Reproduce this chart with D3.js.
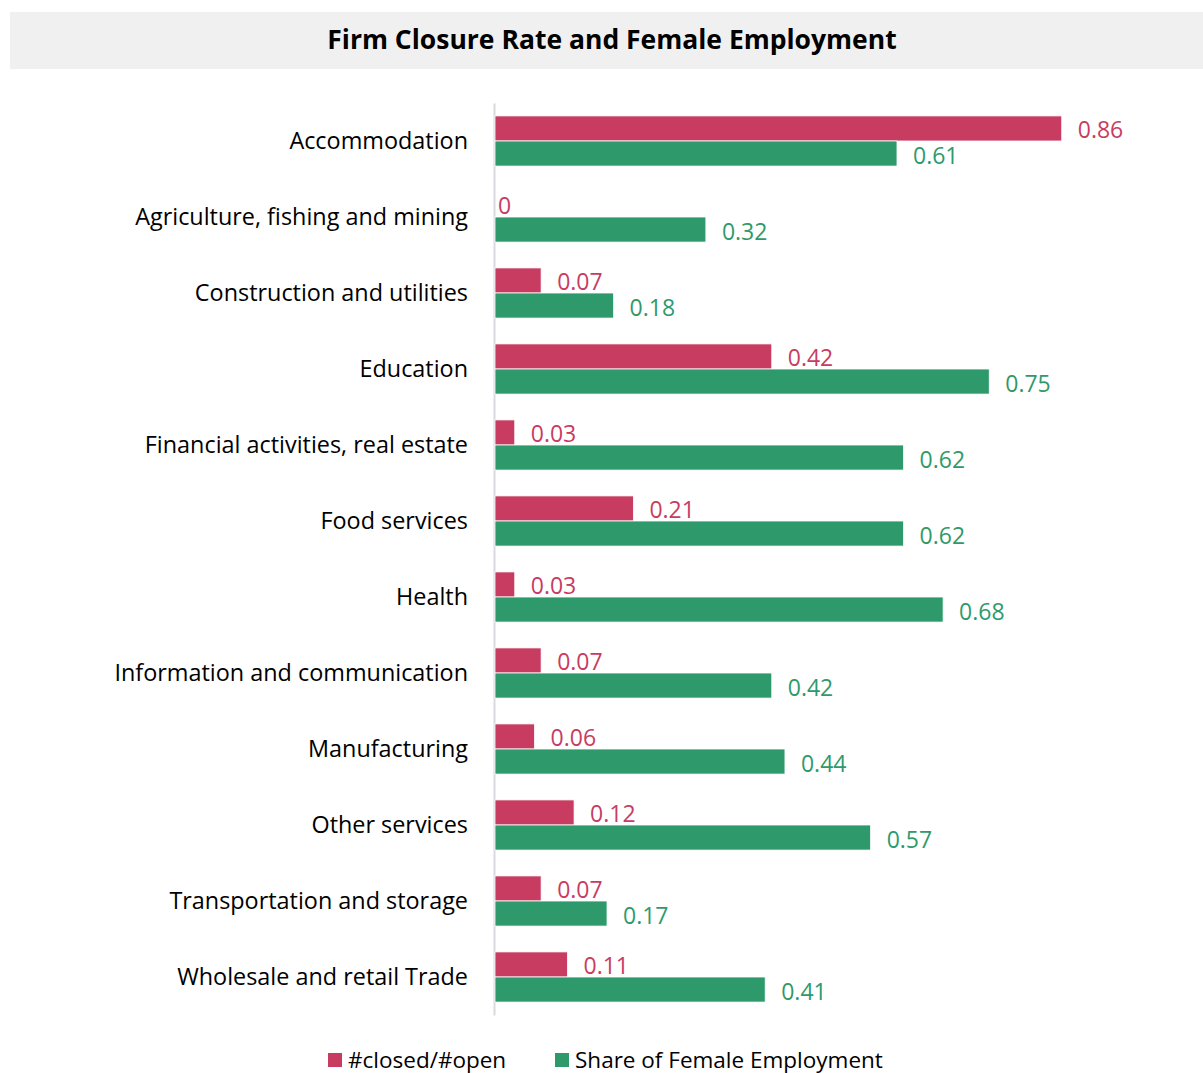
<!DOCTYPE html>
<html>
<head>
<meta charset="utf-8">
<script src="https://cdn.jsdelivr.net/npm/d3@7/dist/d3.min.js"></script>
<style>
  html, body { margin: 0; padding: 0; background: #ffffff; }
  svg { display: block; font-family: "Open Sans", "Noto Sans", sans-serif; }
</style>
</head>
<body>
<script>
// Industry categories, top to bottom
const categories = [
  "Accommodation",
  "Agriculture, fishing and mining",
  "Construction and utilities",
  "Education",
  "Financial activities, real estate",
  "Food services",
  "Health",
  "Information and communication",
  "Manufacturing",
  "Other services",
  "Transportation and storage",
  "Wholesale and retail Trade"
];

// Series names (legend labels)
const seriesNames = ["#closed/#open", "Share of Female Employment"];

// Ratio of closed to open firms per industry
const closedOpen = [0.86, 0, 0.07, 0.42, 0.03, 0.21, 0.03, 0.07, 0.06, 0.12, 0.07, 0.11];

// Share of female employment per industry
const femaleShare = [0.61, 0.32, 0.18, 0.75, 0.62, 0.62, 0.68, 0.42, 0.44, 0.57, 0.17, 0.41];

const colors = ["#C83C62", "#2E9A6C"];

const W = 1203, H = 1073;
const svg = d3.select("body").append("svg").attr("width", W).attr("height", H);

// Title banner
svg.append("rect")
  .attr("x", 10).attr("y", 12).attr("width", W - 10).attr("height", 57)
  .attr("fill", "#f0f0f0");
svg.append("text")
  .attr("x", 612).attr("y", 39)
  .attr("text-anchor", "middle").attr("dominant-baseline", "central")
  .attr("font-weight", "bold").attr("font-size", 26.5).attr("fill", "#000")
  .text("Firm Closure Rate and Female Employment");

// Scales
const x = d3.scaleLinear().domain([0, 1]).range([495, 1154]);
const y0 = d3.scaleBand().domain(categories).range([103, 1015])
  .paddingInner(0.34).paddingOuter(0.17);
const y1 = d3.scaleBand().domain(d3.range(seriesNames.length)).range([0, y0.bandwidth()]);

const rows = categories.map((c, i) => ({ cat: c, vals: [closedOpen[i], femaleShare[i]] }));

// Category axis
const axis = svg.append("g")
  .attr("transform", `translate(494,0)`)
  .call(d3.axisLeft(y0).tickSize(0).tickPadding(26).tickSizeOuter(0));
axis.select(".domain").attr("stroke", "#d9d9df").attr("stroke-width", 2);
axis.selectAll(".tick text")
  .attr("font-size", 23.4).attr("fill", "#000")
  .attr("font-family", "'Open Sans', sans-serif");

// Bars and value labels
const groups = svg.append("g").selectAll("g")
  .data(rows).join("g")
  .attr("transform", d => `translate(0,${y0(d.cat)})`);

groups.selectAll("rect")
  .data(d => d.vals.map((v, k) => ({ v, k })))
  .join("rect")
  .attr("x", x(0))
  .attr("y", d => y1(d.k))
  .attr("width", d => x(d.v) - x(0))
  .attr("height", y1.bandwidth())
  .attr("fill", d => colors[d.k])
  .attr("stroke", "#ffffff").attr("stroke-width", 0.8);

groups.selectAll("text")
  .data(d => d.vals.map((v, k) => ({ v, k })))
  .join("text")
  .attr("x", d => x(d.v) + (d.v > 0 ? 16 : 3))
  .attr("y", d => y1(d.k) + y1.bandwidth() / 2 + 1)
  .attr("dominant-baseline", "central")
  .attr("font-size", 23)
  .attr("fill", d => colors[d.k])
  .text(d => d3.format("")(d.v));

// Legend
const legendItems = [{ name: seriesNames[0], x: 328 }, { name: seriesNames[1], x: 555 }];
const legend = svg.append("g").selectAll("g")
  .data(legendItems).join("g")
  .attr("transform", d => `translate(${d.x},1053)`);
legend.append("rect")
  .attr("width", 14).attr("height", 14)
  .attr("fill", (d, i) => colors[i]);
legend.append("text")
  .attr("x", 20).attr("y", 6)
  .attr("dominant-baseline", "central")
  .attr("font-size", 22.5).attr("fill", "#000")
  .text(d => d.name);
</script>
</body>
</html>
